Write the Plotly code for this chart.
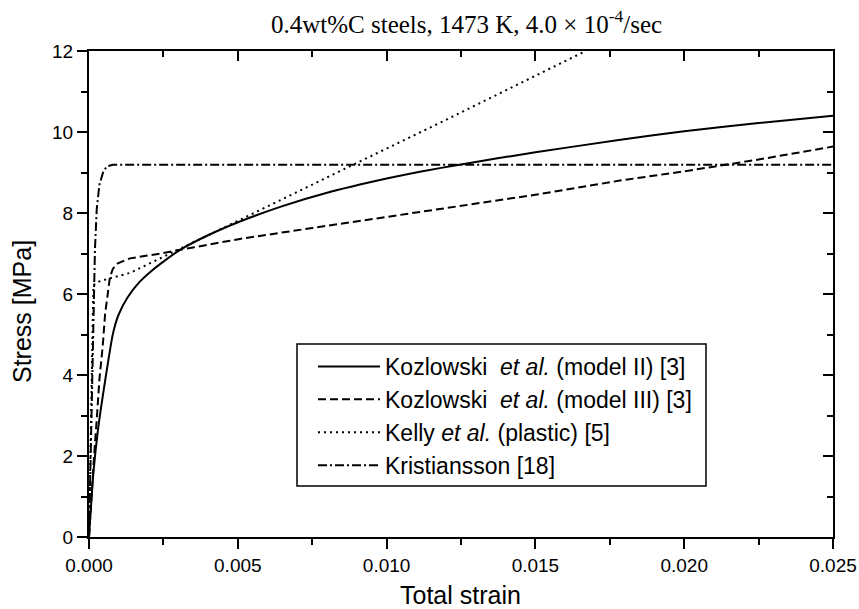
import plotly.graph_objects as go

# ---- data ----
solid_x = [0, 0.00015, 0.0003, 0.00054, 0.00081, 0.001, 0.0013, 0.0017, 0.0021, 0.0025,
           0.00306, 0.004, 0.00507, 0.0065, 0.008, 0.010, 0.01112, 0.0125, 0.015, 0.0178,
           0.020, 0.0225, 0.025]
solid_y = [0, 1.6, 2.64, 3.85, 5.04, 5.5, 5.92, 6.3, 6.57, 6.8,
           7.09, 7.45, 7.79, 8.17, 8.5, 8.85, 9.02, 9.2, 9.5, 9.8,
           10.02, 10.22, 10.4]

dash_x = [0, 0.00008, 0.00017, 0.00026, 0.00035, 0.00046, 0.00054, 0.00063, 0.0007, 0.0008,
          0.00097, 0.00138, 0.0024, 0.0035, 0.00507, 0.0075, 0.010, 0.01112, 0.0125, 0.015,
          0.01784, 0.020, 0.0225, 0.025]
dash_y = [0, 1.0, 2.0, 2.9, 3.9, 4.7, 5.5, 6.0, 6.4, 6.62,
          6.76, 6.88, 7.0, 7.15, 7.36, 7.63, 7.9, 8.02, 8.17, 8.45,
          8.8, 9.03, 9.32, 9.64]

dot_x = [0, 0.00004, 0.00009, 0.00013, 0.00015, 0.0003, 0.0007, 0.001, 0.00138, 0.00194,
         0.00283, 0.00507, 0.00887, 0.0118, 0.01669]
dot_y = [0, 2.0, 4.0, 5.5, 6.22, 6.3, 6.39, 6.45, 6.52, 6.72,
         7.04, 7.83, 9.19, 10.23, 12.0]

dd_x = [0, 0.00005, 0.0001, 0.00014, 0.00017, 0.0002, 0.00026, 0.00035, 0.00048, 0.0006, 0.0008, 0.025]
dd_y = [0, 2.0, 4.0, 5.5, 6.3, 7.1, 8.1, 8.7, 9.02, 9.15, 9.19, 9.19]

names = ["Kozlowski  <i>et al.</i> (model II) [3]",
         "Kozlowski  <i>et al.</i> (model III) [3]",
         "Kelly <i>et al.</i> (plastic) [5]",
         "Kristiansson [18]"]

title_text = "0.4wt%C steels, 1473 K, 4.0 × 10<sup>-4</sup>/sec"
x_title = "Total strain"
y_title = "Stress [MPa]"

SANS = "Liberation Sans, Arial, sans-serif"
SERIF = "Liberation Serif, Times New Roman, serif"

# plot-area geometry in pixels
W, H = 859, 609
L, R, T, B = 89, 833, 51, 537
PW, PH = R - L, B - T


def px_x(p):
    return (p - L) / PW


def px_y(p):
    return (B - p) / PH


fig = go.Figure()
fig.add_trace(go.Scatter(x=solid_x, y=solid_y, mode="lines", name=names[0],
                         line=dict(color="black", width=2, dash="solid", shape="spline", smoothing=0.6)))
fig.add_trace(go.Scatter(x=dash_x, y=dash_y, mode="lines", name=names[1],
                         line=dict(color="black", width=2, dash="8px,4px")))
fig.add_trace(go.Scatter(x=dot_x, y=dot_y, mode="lines", name=names[2],
                         line=dict(color="black", width=2, dash="2px,4px")))
fig.add_trace(go.Scatter(x=dd_x, y=dd_y, mode="lines", name=names[3],
                         line=dict(color="black", width=2, dash="9px,3px,2px,3px")))
# invisible helper trace so the top/right (inside-tick) axes get drawn
fig.add_trace(go.Scatter(x=solid_x, y=solid_y, xaxis="x2", yaxis="y2", showlegend=False,
                         hoverinfo="skip", mode="lines", opacity=0,
                         line=dict(width=0, color="rgba(0,0,0,0)")))

axis_common = dict(showline=True, linewidth=2, linecolor="black", showgrid=False, zeroline=False,
                   tickwidth=2, ticklen=10, tickcolor="black")

legend_left, legend_right, legend_top, legend_bottom = 297, 706, 344, 486

fig.update_layout(
    width=W, height=H,
    margin=dict(l=L, r=W - R, t=T, b=H - B, autoexpand=False),
    paper_bgcolor="white", plot_bgcolor="white",
    font=dict(family=SANS, color="black", size=19),
    xaxis=dict(range=[0, 0.025], dtick=0.005, tick0=0, tickformat=".3f", ticks="outside",
               tickfont=dict(size=19),
               minor=dict(dtick=0.0025, ticklen=6, tickwidth=2, tickcolor="black", ticks="outside"),
               **axis_common),
    yaxis=dict(range=[0, 12], dtick=2, tick0=0, ticks="outside", tickfont=dict(size=19),
               minor=dict(dtick=1, ticklen=6, tickwidth=2, tickcolor="black", ticks="outside"),
               **axis_common),
    xaxis2=dict(overlaying="x", side="top", anchor="y", range=[0, 0.025], dtick=0.005, tick0=0,
                ticks="inside", showticklabels=False,
                minor=dict(dtick=0.0025, ticklen=6, tickwidth=2, tickcolor="black", ticks="inside"),
                **axis_common),
    yaxis2=dict(overlaying="y", side="right", anchor="x", range=[0, 12], dtick=2, tick0=0,
                ticks="inside", showticklabels=False,
                minor=dict(dtick=1, ticklen=6, tickwidth=2, tickcolor="black", ticks="inside"),
                **axis_common),
    legend=dict(x=px_x(313), y=px_y(legend_top + 1), xanchor="left", yanchor="top",
                bgcolor="rgba(0,0,0,0)", borderwidth=0,
                font=dict(family=SANS, size=23, color="black"), itemwidth=62,
                tracegroupgap=0),
    showlegend=True,
    shapes=[dict(type="rect", xref="paper", yref="paper",
                 x0=px_x(legend_left), x1=px_x(legend_right),
                 y0=px_y(legend_bottom), y1=px_y(legend_top),
                 line=dict(color="black", width=1.5), fillcolor="white", layer="below")],
    annotations=[
        dict(text=title_text, xref="paper", yref="paper", x=px_x(466), y=px_y(22),
             xanchor="center", yanchor="middle", showarrow=False,
             font=dict(family=SERIF, size=25, color="black")),
        dict(text=x_title, xref="paper", yref="paper", x=px_x(460), y=px_y(595),
             xanchor="center", yanchor="middle", showarrow=False,
             font=dict(family=SANS, size=25, color="black")),
        dict(text=y_title, xref="paper", yref="paper", x=px_x(22), y=px_y(312),
             xanchor="center", yanchor="middle", showarrow=False, textangle=-90,
             font=dict(family=SANS, size=25, color="black")),
    ],
)

fig.write_html("out.html")
